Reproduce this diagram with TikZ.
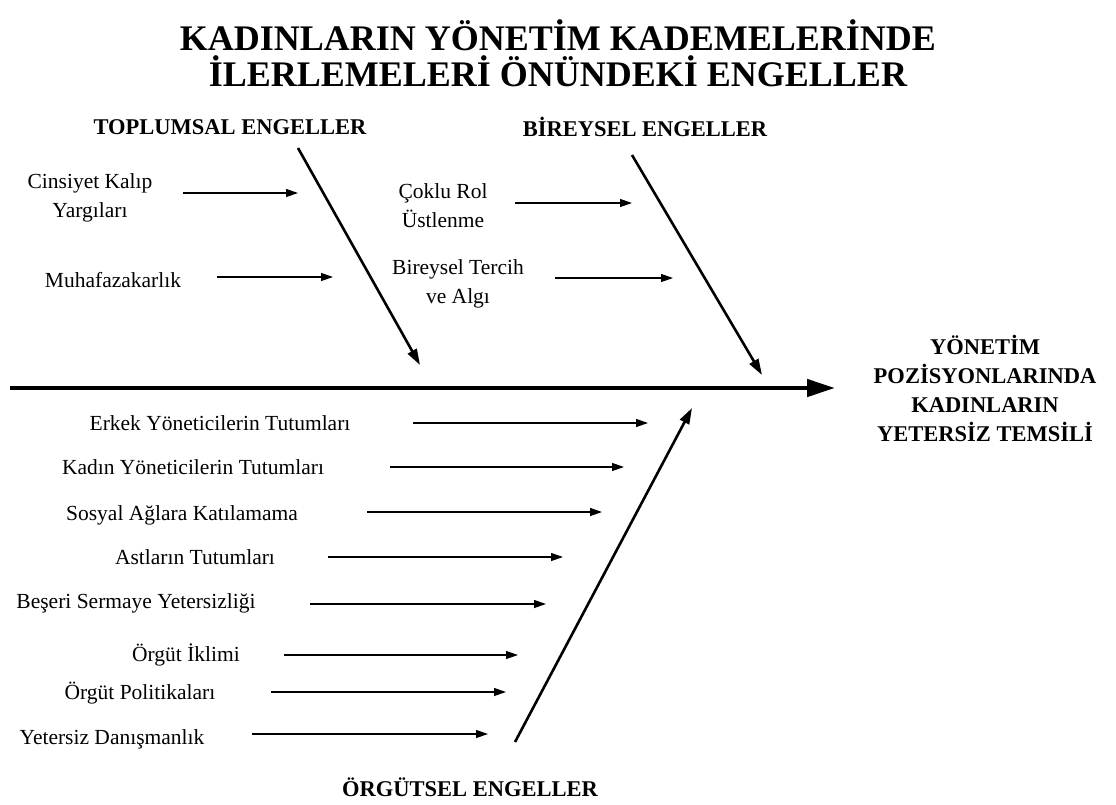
\documentclass[tikz,border=0pt]{standalone}
\usepackage{fontspec}
\setmainfont{Liberation Serif}
\usetikzlibrary{arrows.meta}

\tikzset{
  cause/.style={-{Triangle[length=12pt,width=8pt]}, line width=1.2pt},
  bone/.style={-{Triangle[length=16pt,width=10pt]}, line width=2.6pt},
  spine/.style={-{Triangle[length=28pt,width=17pt]}, line width=4.5pt},
  lbl/.style={font=\fontsize{21.5}{29}\selectfont, align=center, inner sep=0pt},
  head/.style={font=\fontsize{22.5}{29}\selectfont\bfseries, align=center, inner sep=0pt},
}

\begin{document}
\begin{tikzpicture}[x=1pt,y=-1pt]
    \useasboundingbox (0,0) rectangle (1116,804);

    % title
    \node[font=\fontsize{36}{36}\selectfont\bfseries, align=center, inner sep=0pt] at (558,53) (title)
        {KADINLARIN YÖNETİM KADEMELERİNDE\\İLERLEMELERİ ÖNÜNDEKİ ENGELLER};

    % spine and head
    \coordinate (tail) at (10,388);
    \coordinate (headtip) at (835,388);
    \draw[spine] (tail) -- (headtip);
    \node[head] at (985,388) (effect)
        {YÖNETİM\\POZİSYONLARINDA\\KADINLARIN\\YETERSİZ TEMSİLİ};

    % bones
    \node[head] at (230,127) (toplumsal) {TOPLUMSAL ENGELLER};
    \node[head] at (645,127) (bireysel) {BİREYSEL ENGELLER};
    \node[head] at (470,787) (orgutsel) {ÖRGÜTSEL ENGELLER};
    \coordinate (T0) at (298,148);
    \coordinate (T1) at (420,365);
    \coordinate (B0) at (632,155);
    \coordinate (B1) at (762,375);
    \coordinate (O0) at (515,742);
    \coordinate (O1) at (692,408);
    \draw[bone] (T0) -- (T1);
    \draw[bone] (B0) -- (B1);
    \draw[bone] (O0) -- (O1);

    % toplumsal causes
    \node[lbl] at (90,198) (cinsiyet) {Cinsiyet Kalıp\\Yargıları};
    \node[lbl] at (113,280) (muhafaza) {Muhafazakarlık};
    \coordinate (cinS) at (183,193);  \coordinate (cinE) at (298,193);
    \coordinate (muhS) at (217,277);  \coordinate (muhE) at (333,277);
    \draw[cause] (cinS) -- (cinE);
    \draw[cause] (muhS) -- (muhE);

    % bireysel causes
    \node[lbl] at (443,206) (coklu) {Çoklu Rol\\Üstlenme};
    \node[lbl] at (458,284) (tercih) {Bireysel Tercih\\ve Algı};
    \coordinate (cokS) at (515,203);  \coordinate (cokE) at (632,203);
    \coordinate (terS) at (555,278);  \coordinate (terE) at (673,278);
    \draw[cause] (cokS) -- (cokE);
    \draw[cause] (terS) -- (terE);

    % orgutsel causes
    \node[lbl] at (220,423) (erkek) {Erkek Yöneticilerin Tutumları};
    \node[lbl] at (193,467) (kadin) {Kadın Yöneticilerin Tutumları};
    \node[lbl] at (182,515) (sosyal) {Sosyal Ağlara Katılamama};
    \node[lbl] at (195,557) (astlar) {Astların Tutumları};
    \node[lbl] at (136,603) (beseri) {Beşeri Sermaye Yetersizliği};
    \node[lbl] at (186,655) (iklim) {Örgüt İklimi};
    \node[lbl] at (140,693) (politika) {Örgüt Politikaları};
    \node[lbl] at (112,739) (danisman) {Yetersiz Danışmanlık};
    \coordinate (erkS) at (413,423);  \coordinate (erkE) at (648,423);
    \coordinate (kadS) at (390,467);  \coordinate (kadE) at (624,467);
    \coordinate (sosS) at (367,512);  \coordinate (sosE) at (602,512);
    \coordinate (astS) at (328,557);  \coordinate (astE) at (563,557);
    \coordinate (besS) at (310,604);  \coordinate (besE) at (546,604);
    \coordinate (iklS) at (284,655);  \coordinate (iklE) at (518,655);
    \coordinate (polS) at (271,692);  \coordinate (polE) at (506,692);
    \coordinate (danS) at (252,734);  \coordinate (danE) at (488,734);
    \draw[cause] (erkS) -- (erkE);
    \draw[cause] (kadS) -- (kadE);
    \draw[cause] (sosS) -- (sosE);
    \draw[cause] (astS) -- (astE);
    \draw[cause] (besS) -- (besE);
    \draw[cause] (iklS) -- (iklE);
    \draw[cause] (polS) -- (polE);
    \draw[cause] (danS) -- (danE);
\end{tikzpicture}
\end{document}
